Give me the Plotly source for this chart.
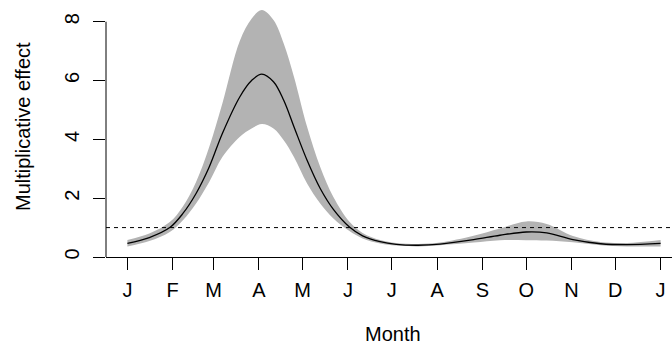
import plotly.graph_objects as go

# Day-of-year positions and readings
days = [1, 16, 30, 39, 48, 57, 66, 78, 86, 93, 101, 108, 115, 124, 133, 142, 153, 162,
        174, 185, 200, 215, 238, 256, 274, 288, 306, 325, 343, 366]
mean = [0.46, 0.66, 1.00, 1.48, 2.16, 3.06, 4.20, 5.45, 6.00, 6.22, 5.96, 5.33, 4.43, 3.29,
        2.33, 1.62, 1.02, 0.72, 0.52, 0.43, 0.40, 0.44, 0.59, 0.74, 0.85, 0.82, 0.59, 0.45,
        0.42, 0.46]
lower = [0.36, 0.54, 0.85, 1.25, 1.82, 2.55, 3.40, 4.09, 4.37, 4.52, 4.37, 3.97, 3.40, 2.50,
         1.82, 1.31, 0.88, 0.63, 0.46, 0.39, 0.36, 0.40, 0.49, 0.57, 0.57, 0.56, 0.50, 0.40,
         0.36, 0.36]
upper = [0.58, 0.80, 1.19, 1.72, 2.55, 3.74, 5.22, 7.35, 8.10, 8.40, 8.06, 7.26, 6.13, 4.43,
         3.06, 2.04, 1.20, 0.82, 0.58, 0.48, 0.44, 0.49, 0.72, 0.97, 1.21, 1.12, 0.71, 0.51,
         0.48, 0.58]

month_ticks = [1, 32, 60, 91, 121, 152, 182, 213, 244, 274, 305, 335, 366]
month_labels = ["J", "F", "M", "A", "M", "J", "J", "A", "S", "O", "N", "D", "J"]
y_ticks = [0, 2, 4, 6, 8]

FONT = "Liberation Sans, Arial, Helvetica, sans-serif"

fig = go.Figure()
fig.add_trace(go.Scatter(x=days, y=upper, mode="lines", line=dict(width=0, shape="spline", smoothing=1),
                         hoverinfo="skip", showlegend=False))
fig.add_trace(go.Scatter(x=days, y=lower, mode="lines", line=dict(width=0, shape="spline", smoothing=1),
                         fill="tonexty", fillcolor="#B3B3B3", hoverinfo="skip", showlegend=False))
fig.add_trace(go.Scatter(x=days, y=mean, mode="lines",
                         line=dict(color="black", width=1.3, shape="spline", smoothing=1),
                         showlegend=False))

# dashed reference line at 1
fig.add_shape(type="line", xref="paper", yref="y", x0=0, x1=1, y0=1, y1=1,
              line=dict(color="black", width=1, dash="4px,4px"))
# y axis line from 0 to 8
fig.add_shape(type="line", xref="paper", yref="y", x0=0, x1=0, y0=0, y1=8,
              line=dict(color="black", width=1))

fig.update_layout(
    width=672, height=348,
    margin=dict(l=106, r=0, t=7, b=91),
    plot_bgcolor="white", paper_bgcolor="white",
    font=dict(family=FONT, size=20, color="black"),
    xaxis=dict(range=[-13.65, 373.8], tickmode="array", tickvals=month_ticks, ticktext=month_labels,
               ticks="outside", ticklen=12, tickcolor="black", tickwidth=1,
               showline=True, linecolor="black", linewidth=1, showgrid=False, zeroline=False,
               ticklabelstandoff=3),
    yaxis=dict(range=[0, 8.5], tickmode="array", tickvals=y_ticks, ticktext=[str(v) for v in y_ticks],
               ticks="outside", ticklen=12, tickcolor="black", tickwidth=1, tickangle=-90,
               showline=False, showgrid=False, zeroline=False, ticklabelstandoff=6),
    annotations=[
        dict(text="Month", xref="paper", yref="paper", x=(393 - 106) / 566, y=0,
             yshift=-(333 - 256.5), showarrow=False, xanchor="center", yanchor="middle",
             font=dict(size=20)),
        dict(text="Multiplicative effect", xref="paper", yref="paper", x=0, xshift=-(106 - 22.5),
             y=(256.5 - 126) / 250, showarrow=False, textangle=-90, xanchor="center",
             yanchor="middle", font=dict(size=20)),
    ],
)

fig.write_html("out.html")
